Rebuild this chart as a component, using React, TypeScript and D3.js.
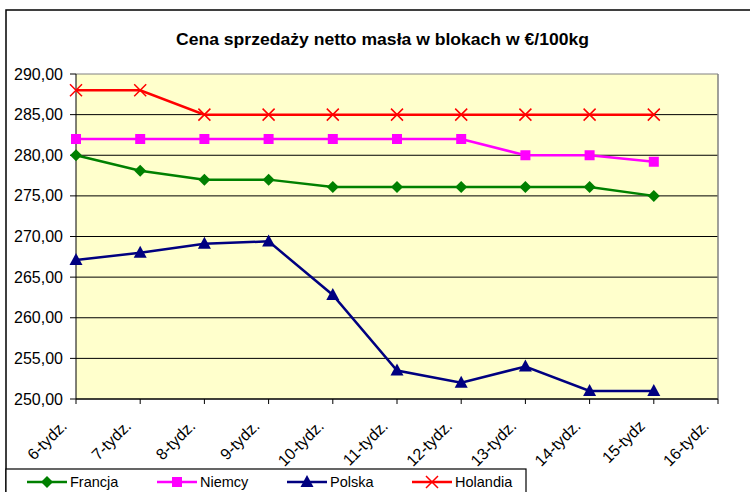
import React from "react";
import * as d3 from "d3";

const categories = ["6-tydz.", "7-tydz.", "8-tydz.", "9-tydz.", "10-tydz.", "11-tydz.", "12-tydz.", "13-tydz.", "14-tydz.", "15-tydz", "16-tydz."];
const francja = [280, 278.1, 277, 277, 276.1, 276.1, 276.1, 276.1, 276.1, 275];
const niemcy = [282, 282, 282, 282, 282, 282, 282, 280, 280, 279.2];
const polska = [267.1, 268, 269.1, 269.4, 262.8, 253.5, 252, 254, 251, 251];
const holandia = [288, 288, 285, 285, 285, 285, 285, 285, 285, 285];
const yTicks = [250, 255, 260, 265, 270, 275, 280, 285, 290];

const W = 750, H = 492;
const L = 76, R = 718, T = 74, B = 399;

type Marker = "diamond" | "square" | "triangle" | "x";
const series: { name: string; values: number[]; color: string; marker: Marker }[] = [
  { name: "Francja", values: francja, color: "#008000", marker: "diamond" },
  { name: "Niemcy", values: niemcy, color: "#FF00FF", marker: "square" },
  { name: "Polska", values: polska, color: "#000080", marker: "triangle" },
  { name: "Holandia", values: holandia, color: "#FF0000", marker: "x" },
];

function MarkerShape({ type, x, y, color }: { type: Marker; x: number; y: number; color: string }) {
  if (type === "diamond") {
    const r = 6;
    return <path d={`M${x},${y - r}L${x + r},${y}L${x},${y + r}L${x - r},${y}Z`} fill={color} />;
  }
  if (type === "square") {
    const r = 5;
    return <rect x={x - r} y={y - r} width={2 * r} height={2 * r} fill={color} />;
  }
  if (type === "triangle") {
    const r = 6;
    return <path d={`M${x},${y - r - 1}L${x + r + 0.5},${y + r - 1}L${x - r - 0.5},${y + r - 1}Z`} fill={color} />;
  }
  const r = 6;
  return (
    <path d={`M${x - r},${y - r}L${x + r},${y + r}M${x + r},${y - r}L${x - r},${y + r}`} stroke={color} strokeWidth={1.5} fill="none" />
  );
}

export default function App() {
  const x = d3.scalePoint<string>().domain(categories).range([L, R]);
  const y = d3.scaleLinear().domain([250, 290]).range([B, T]);
  const line = d3
    .line<number>()
    .x((_, i) => x(categories[i]) as number)
    .y((d) => y(d));

  const legendItems = [
    { lx: 27, tx: 70 },
    { lx: 157, tx: 200 },
    { lx: 287, tx: 330 },
    { lx: 412, tx: 455 },
  ];
  const ly = 482;

  return (
    <svg width={W} height={H} style={{ position: "absolute", left: 0, top: 0 }} fontFamily="Liberation Sans, Arial, sans-serif">
      <rect x={0} y={0} width={W} height={H} fill="#fff" />
      <rect x={6} y={10} width={800} height={600} fill="none" stroke="#000" strokeWidth={1.5} />
      <text x={382.5} y={45} textAnchor="middle" fontSize={16.5} fontWeight="bold" textLength={413} lengthAdjust="spacingAndGlyphs">
        Cena sprzedaży netto masła w blokach w €/100kg
      </text>
      <rect x={L} y={T} width={R - L} height={B - T} fill="#FFFFCC" />
      {yTicks.map((t) => (
        <line key={t} x1={L} x2={R} y1={y(t)} y2={y(t)} stroke={t === 290 ? "#808080" : "#000"} strokeWidth={1} />
      ))}
      <line x1={R} x2={R} y1={T} y2={B} stroke="#808080" strokeWidth={1.5} />
      <line x1={L} x2={L} y1={T} y2={B} stroke="#000" strokeWidth={1} />
      <line x1={L} x2={R} y1={B} y2={B} stroke="#000" strokeWidth={1} />
      {yTicks.map((t) => (
        <g key={"yt" + t}>
          <line x1={L - 6} x2={L} y1={y(t)} y2={y(t)} stroke="#000" />
          <text x={63} y={y(t) + 5.5} textAnchor="end" fontSize={16}>
            {d3.format(".2f")(t).replace(".", ",")}
          </text>
        </g>
      ))}
      {categories.map((c) => {
        const cx = x(c) as number;
        return (
          <g key={c}>
            <line x1={cx} x2={cx} y1={B} y2={B + 5} stroke="#000" />
            <text transform={`translate(${cx - 8},${B + 28}) rotate(-45)`} textAnchor="end" fontSize={16}>
              {c}
            </text>
          </g>
        );
      })}
      {series.map((s) => (
        <g key={s.name}>
          <path d={line(s.values) || ""} fill="none" stroke={s.color} strokeWidth={2.5} />
          {s.values.map((v, i) => (
            <MarkerShape key={i} type={s.marker} x={x(categories[i]) as number} y={y(v)} color={s.color} />
          ))}
        </g>
      ))}
      <rect x={6} y={469} width={520} height={60} fill="#fff" stroke="#000" strokeWidth={1.2} />
      {series.map((s, i) => {
        const it = legendItems[i];
        return (
          <g key={"lg" + s.name}>
            <line x1={it.lx} x2={it.lx + 40} y1={ly} y2={ly} stroke={s.color} strokeWidth={2.5} />
            <MarkerShape type={s.marker} x={it.lx + 20} y={ly} color={s.color} />
            <text x={it.tx} y={ly + 5} fontSize={14.5}>
              {s.name}
            </text>
          </g>
        );
      })}
    </svg>
  );
}
